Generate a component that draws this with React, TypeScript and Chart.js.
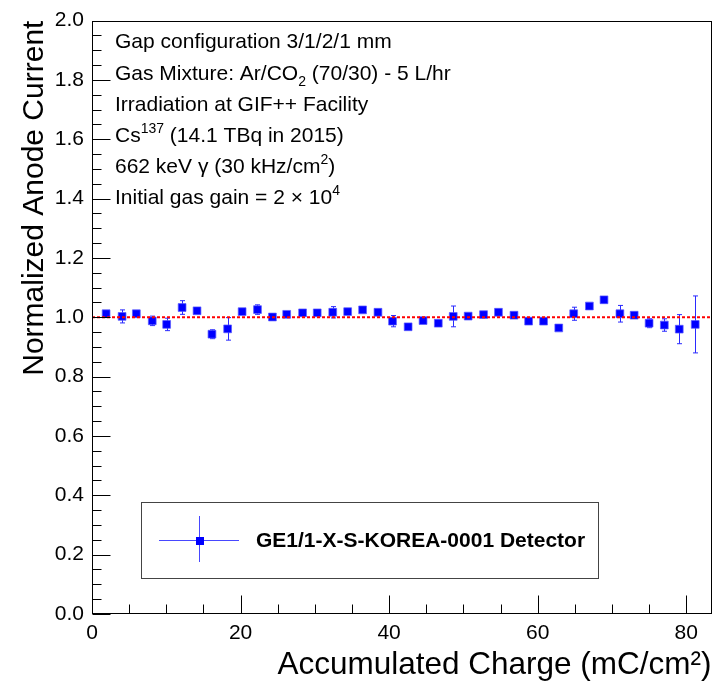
import React, { useEffect, useRef } from "react";
import { Chart, registerables } from "chart.js";

Chart.register(...registerables);

// ---------- data ----------
const xCharge = [
  1.9, 4.05, 5.97, 8.11, 10.05, 12.13, 14.14, 16.15, 18.26, 20.21,
  22.28, 24.29, 26.21, 28.35, 30.32, 32.41, 34.42, 36.43, 38.5, 40.46,
  42.56, 44.57, 46.62, 48.63, 50.64, 52.71, 54.72, 56.81, 58.78, 60.79,
  62.84, 64.85, 66.96, 68.93, 71.07, 72.99, 75.0, 77.05, 79.06, 81.21,
];
const yCurrent = [
  1.012, 1.003, 1.012, 0.988, 0.976, 1.033, 1.022, 0.943, 0.961, 1.019,
  1.026, 1.001, 1.01, 1.015, 1.015, 1.017, 1.019, 1.025, 1.017, 0.987,
  0.968, 0.989, 0.98, 1.003, 1.004, 1.009, 1.017, 1.007, 0.987, 0.987,
  0.964, 1.012, 1.038, 1.059, 1.012, 1.007, 0.98, 0.974, 0.96, 0.976,
];
const yError = [
  0.006, 0.022, 0.005, 0.016, 0.021, 0.023, 0.008, 0.015, 0.038, 0.006,
  0.016, 0.005, 0.006, 0.006, 0.006, 0.019, 0.006, 0.006, 0.006, 0.019,
  0.006, 0.006, 0.006, 0.035, 0.006, 0.006, 0.006, 0.006, 0.006, 0.006,
  0.006, 0.022, 0.006, 0.01, 0.028, 0.006, 0.015, 0.021, 0.049, 0.096,
];
const referenceLevel = [1.0, 1.0];
const xRange = [0, 83.4];
const yRange = [0, 2.0];
const xMajorStep = 20;
const xMinorStep = 5;
const yMajorStep = 0.2;
const yMinorStep = 0.05;

const xTitle = "Accumulated Charge (mC/cm²)";
const yTitle = "Normalized Anode Current";
const legendLabel = "GE1/1-X-S-KOREA-0001 Detector";

type Seg = { t: string; s?: "sup" | "sub" };
const infoLines: Seg[][] = [
  [{ t: "Gap configuration 3/1/2/1 mm" }],
  [{ t: "Gas Mixture: Ar/CO" }, { t: "2", s: "sub" }, { t: " (70/30) - 5 L/hr" }],
  [{ t: "Irradiation at GIF++ Facility" }],
  [{ t: "Cs" }, { t: "137", s: "sup" }, { t: " (14.1 TBq in 2015)" }],
  [{ t: "662 keV γ (30 kHz/cm" }, { t: "2", s: "sup" }, { t: ")" }],
  [{ t: "Initial gas gain = 2 × 10" }, { t: "4", s: "sup" }],
];

const FAMILY = "'Liberation Sans', Arial, Helvetica, sans-serif";

function drawRich(ctx: CanvasRenderingContext2D, segs: Seg[], x: number, y: number, size: number) {
  let cx = x;
  for (const sg of segs) {
    const fs = sg.s ? Math.round(size * 0.66) : size;
    const dy = sg.s === "sup" ? -size * 0.42 : sg.s === "sub" ? size * 0.28 : 0;
    ctx.font = `${fs}px ${FAMILY}`;
    ctx.fillText(sg.t, cx, y + dy);
    cx += ctx.measureText(sg.t).width;
  }
}

const decorPlugin = {
  id: "decor",
  beforeDatasetsDraw(chart: any) {
    const { ctx, chartArea, scales } = chart;
    const xs = scales.x;
    const ys = scales.y;
    ctx.save();
    ctx.beginPath();
    ctx.rect(chartArea.left, chartArea.top, chartArea.right - chartArea.left, chartArea.bottom - chartArea.top);
    ctx.clip();
    ctx.strokeStyle = "#2a2aff";
    ctx.lineWidth = 1;
    for (let i = 0; i < xCharge.length; i++) {
      const px = Math.round(xs.getPixelForValue(xCharge[i])) + 0.5;
      const top = ys.getPixelForValue(yCurrent[i] + yError[i]);
      const bot = ys.getPixelForValue(yCurrent[i] - yError[i]);
      ctx.beginPath();
      ctx.moveTo(px, top);
      ctx.lineTo(px, bot);
      ctx.moveTo(px - 2.5, top);
      ctx.lineTo(px + 2.5, top);
      ctx.moveTo(px - 2.5, bot);
      ctx.lineTo(px + 2.5, bot);
      ctx.stroke();
    }
    ctx.restore();
  },
  afterDatasetsDraw(chart: any) {
    const { ctx, chartArea, scales } = chart;
    const xs = scales.x;
    const ys = scales.y;
    const L = Math.round(chartArea.left) + 0.5;
    const R = Math.round(chartArea.right) - 0.5;
    const T = Math.round(chartArea.top) + 0.5;
    const B = Math.round(chartArea.bottom) - 0.5;
    ctx.save();
    // frame
    ctx.strokeStyle = "#000";
    ctx.lineWidth = 1;
    ctx.strokeRect(L, T, R - L, B - T);
    // x ticks
    ctx.beginPath();
    for (let v = xRange[0]; v <= xRange[1] + 1e-9; v += xMinorStep) {
      const major = Math.abs(v / xMajorStep - Math.round(v / xMajorStep)) < 1e-6;
      const px = Math.round(xs.getPixelForValue(v)) + 0.5;
      const len = major ? 18 : 9;
      ctx.moveTo(px, B);
      ctx.lineTo(px, B - len);
    }
    // y ticks
    for (let v = yRange[0]; v <= yRange[1] + 1e-9; v += yMinorStep) {
      const major = Math.abs(v / yMajorStep - Math.round(v / yMajorStep)) < 1e-6;
      const py = Math.round(ys.getPixelForValue(v)) + 0.5;
      const len = major ? 18 : 9;
      ctx.moveTo(L, py);
      ctx.lineTo(L + len, py);
    }
    ctx.stroke();

    // info text
    ctx.fillStyle = "#000";
    ctx.textAlign = "left";
    ctx.textBaseline = "alphabetic";
    const baselines = [48, 80, 111, 142, 173, 204];
    infoLines.forEach((segs, i) => drawRich(ctx, segs, 115, baselines[i], 21));

    // legend box
    ctx.fillStyle = "#fff";
    ctx.fillRect(141.5, 502.5, 457, 76);
    ctx.strokeStyle = "#444";
    ctx.strokeRect(141.5, 502.5, 457, 76);
    ctx.strokeStyle = "#4848ff";
    ctx.beginPath();
    ctx.moveTo(159, 540.5);
    ctx.lineTo(239, 540.5);
    ctx.moveTo(199.5, 516);
    ctx.lineTo(199.5, 562);
    ctx.stroke();
    ctx.fillStyle = "#0000ff";
    ctx.fillRect(196, 537, 8, 8);
    ctx.fillStyle = "#000";
    ctx.font = `bold 21px ${FAMILY}`;
    ctx.textBaseline = "middle";
    ctx.fillText(legendLabel, 256, 541);
    ctx.restore();
  },
};

export default function App() {
  const ref = useRef<HTMLCanvasElement | null>(null);
  useEffect(() => {
    if (!ref.current) return;
    const chart = new Chart(ref.current, {
      type: "scatter",
      data: {
        datasets: [
          {
            type: "line",
            data: xRange.map((x, i) => ({ x, y: referenceLevel[i] })),
            borderColor: "#ff0000",
            borderWidth: 2,
            borderDash: [3, 2],
            pointRadius: 0,
            fill: false,
            order: 0,
          } as any,
          {
            type: "scatter",
            data: xCharge.map((x, i) => ({ x, y: yCurrent[i] })),
            pointStyle: "rect",
            pointRadius: 5.5,
            backgroundColor: "#0000ff",
            borderColor: "rgba(90,90,255,0.7)",
            borderWidth: 1,
            order: 1,
          } as any,
        ],
      },
      options: {
        animation: false,
        responsive: false,
        layout: { padding: { top: 18, right: 5, left: 0, bottom: 0 } },
        plugins: { legend: { display: false }, tooltip: { enabled: false } },
        scales: {
          x: {
            type: "linear",
            min: xRange[0],
            max: xRange[1],
            afterFit: (s: any) => {
              s.height = 73;
            },
            grid: { display: false, drawTicks: false },
            border: { display: false },
            ticks: {
              stepSize: xMajorStep,
              includeBounds: false,
              color: "#000",
              font: { size: 21, family: FAMILY },
              padding: 7,
              maxRotation: 0,
            },
            title: {
              display: true,
              text: xTitle,
              align: "end",
              color: "#000",
              font: { size: 31.5, family: FAMILY },
              padding: { top: 0, bottom: 3 },
            },
          },
          y: {
            type: "linear",
            min: yRange[0],
            max: yRange[1],
            afterFit: (s: any) => {
              s.width = 92;
            },
            grid: { display: false, drawTicks: false },
            border: { display: false },
            ticks: {
              stepSize: yMajorStep,
              includeBounds: false,
              color: "#000",
              font: { size: 21, family: FAMILY },
              padding: 8,
              callback: (v: any) => Number(v).toFixed(1),
            },
            title: {
              display: true,
              text: yTitle,
              align: "end",
              color: "#000",
              font: { size: 30, family: FAMILY },
              padding: { top: 17, bottom: 0 },
            },
          },
        },
      } as any,
      plugins: [decorPlugin],
    });
    return () => chart.destroy();
  }, []);
  return (
    <div style={{ position: "absolute", left: 0, top: 0, width: 718, height: 687, background: "#fff" }}>
      <canvas ref={ref} width={718} height={687} style={{ display: "block" }} />
    </div>
  );
}
